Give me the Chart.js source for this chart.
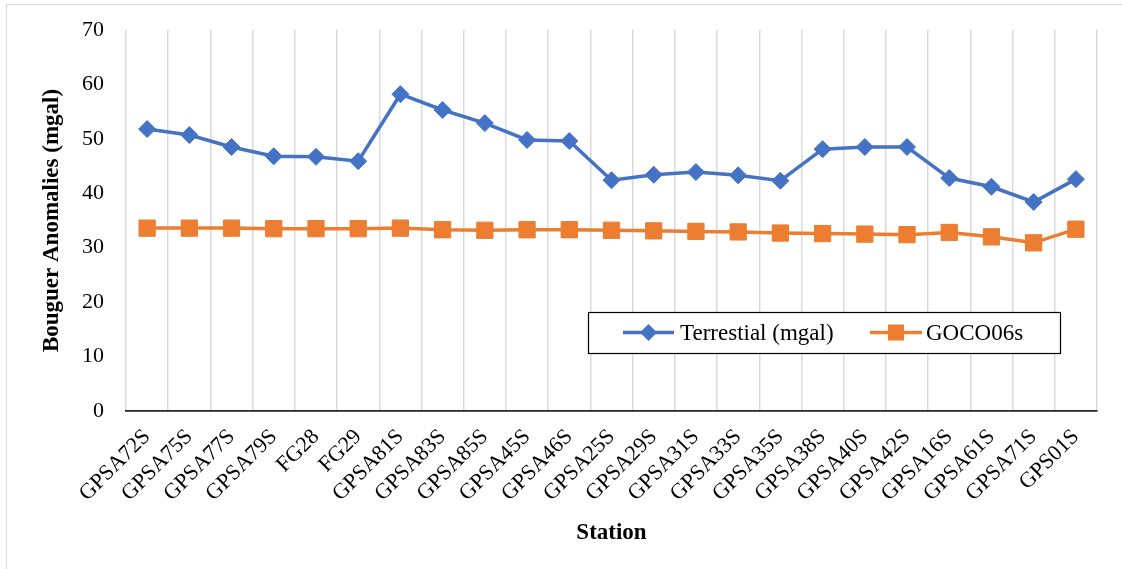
<!DOCTYPE html>
<html>
<head>
<meta charset="utf-8">
<script src="https://cdn.jsdelivr.net/npm/chart.js@4.4.1/dist/chart.umd.min.js"></script>
<style>
  html, body { margin: 0; padding: 0; background: #fff; }
  #wrap { position: relative; width: 1122px; height: 569px; overflow: hidden; }
  #frame { position: absolute; left: 6px; top: 4px; width: 1130px; height: 580px;
           border-left: 1.5px solid #d9d9d9; border-top: 1.5px solid #d9d9d9; pointer-events: none; }
  canvas { position: absolute; left: 0; top: 0; }
</style>
</head>
<body>
<div id="wrap">
  <canvas id="c" width="1122" height="569"></canvas>
  <div id="frame"></div>
</div>
<script>
const stations = ["GPSA72S","GPSA75S","GPSA77S","GPSA79S","FG28","FG29","GPSA81S","GPSA83S","GPSA85S","GPSA45S","GPSA46S","GPSA25S","GPSA29S","GPSA31S","GPSA33S","GPSA35S","GPSA38S","GPSA40S","GPSA42S","GPSA16S","GPSA61S","GPSA71S","GPS01S"];
const terrestrial = [51.8,50.7,48.5,46.8,46.7,45.9,58.2,55.3,52.9,49.8,49.6,42.4,43.4,43.9,43.3,42.3,48.1,48.5,48.5,42.8,41.2,38.4,42.6];
const goco06s = [33.6,33.6,33.6,33.5,33.5,33.5,33.6,33.3,33.2,33.3,33.3,33.2,33.1,33.0,32.9,32.7,32.6,32.5,32.4,32.8,32.0,30.9,33.4];
const seriesNames = ["Terrestial (mgal)","GOCO06s"];
const yTicks = [0,10,20,30,40,50,60,70];

const BLUE = "#4472C4", ORANGE = "#ED7D31";
const FONT = "'Liberation Serif', 'DejaVu Serif', serif";

const legendPlugin = {
  id: 'boxLegend',
  afterDraw(chart) {
    const ctx = chart.ctx;
    const x0 = 588, y0 = 312, w = 472, h = 41;
    ctx.save();
    ctx.fillStyle = '#fff';
    ctx.fillRect(x0, y0, w, h);
    ctx.strokeStyle = '#000';
    ctx.lineWidth = 1.2;
    ctx.strokeRect(x0 + 0.5, y0 + 0.5, w, h);
    const cy = y0 + h / 2;
    const items = [
      { x1: 623, x2: 674, tx: 680, color: BLUE, shape: 'diamond', label: seriesNames[0] },
      { x1: 870, x2: 922, tx: 926, color: ORANGE, shape: 'square', label: seriesNames[1] }
    ];
    items.forEach(it => {
      ctx.strokeStyle = it.color;
      ctx.lineWidth = 3.5;
      ctx.beginPath(); ctx.moveTo(it.x1, cy); ctx.lineTo(it.x2, cy); ctx.stroke();
      const mx = (it.x1 + it.x2) / 2;
      ctx.fillStyle = it.color;
      ctx.beginPath();
      if (it.shape === 'diamond') {
        const r = 8.5;
        ctx.moveTo(mx, cy - r); ctx.lineTo(mx + r, cy); ctx.lineTo(mx, cy + r); ctx.lineTo(mx - r, cy);
        ctx.closePath(); ctx.fill();
      } else {
        ctx.fillRect(mx - 8, cy - 8, 16, 16);
      }
      ctx.fillStyle = '#000';
      ctx.font = "23px " + FONT;
      ctx.textBaseline = 'middle';
      ctx.textAlign = 'left';
      ctx.fillText(it.label, it.tx, cy + 1);
    });
    ctx.restore();
  }
};

new Chart(document.getElementById('c'), {
  type: 'line',
  data: {
    labels: stations,
    datasets: [
      { label: seriesNames[0], data: terrestrial, borderColor: BLUE, backgroundColor: BLUE,
        borderWidth: 3.5, pointStyle: 'rectRot', pointRadius: 8.5, pointHoverRadius: 8.5,
        pointBorderWidth: 1, tension: 0 },
      { label: seriesNames[1], data: goco06s, borderColor: ORANGE, backgroundColor: ORANGE,
        borderWidth: 3.5, pointStyle: 'rect', pointRadius: 11.5, pointHoverRadius: 11.5,
        pointBorderWidth: 1, tension: 0 }
    ]
  },
  options: {
    responsive: false,
    animation: false,
    devicePixelRatio: 1,
    layout: { autoPadding: false, padding: { top: 30, right: 25, left: 38, bottom: 22 } },
    plugins: { legend: { display: false }, tooltip: { enabled: false } },
    scales: {
      x: {
        offset: true,
        grid: { display: true, offset: true, color: '#d9d9d9', lineWidth: 1.5, drawTicks: false },
        border: { display: true, color: '#262626', width: 1.8 },
        ticks: { color: '#000', font: { family: FONT, size: 22 }, minRotation: 45, maxRotation: 45, padding: 13, autoSkip: false },
        title: { display: true, text: 'Station', color: '#000', font: { family: FONT, size: 23, weight: 'bold' }, padding: { top: 8, bottom: 0 } },
        afterFit(s) { s.height = 136; s.paddingTop = 0; }
      },
      y: {
        min: 0, max: 70,
        afterBuildTicks(s) { s.ticks = yTicks.map(v => ({ value: v })); },
        grid: { display: false, drawTicks: false },
        border: { display: false },
        ticks: { color: '#000', font: { family: FONT, size: 22 }, padding: 22 },
        title: { display: true, text: 'Bouguer Anomalies (mgal)', color: '#000', font: { family: FONT, size: 23, weight: 'bold' }, padding: { top: 0, bottom: 10 } },
        afterFit(s) { s.width = 88; s.paddingTop = 0; }
      }
    }
  },
  plugins: [legendPlugin]
});
</script>
</body>
</html>
